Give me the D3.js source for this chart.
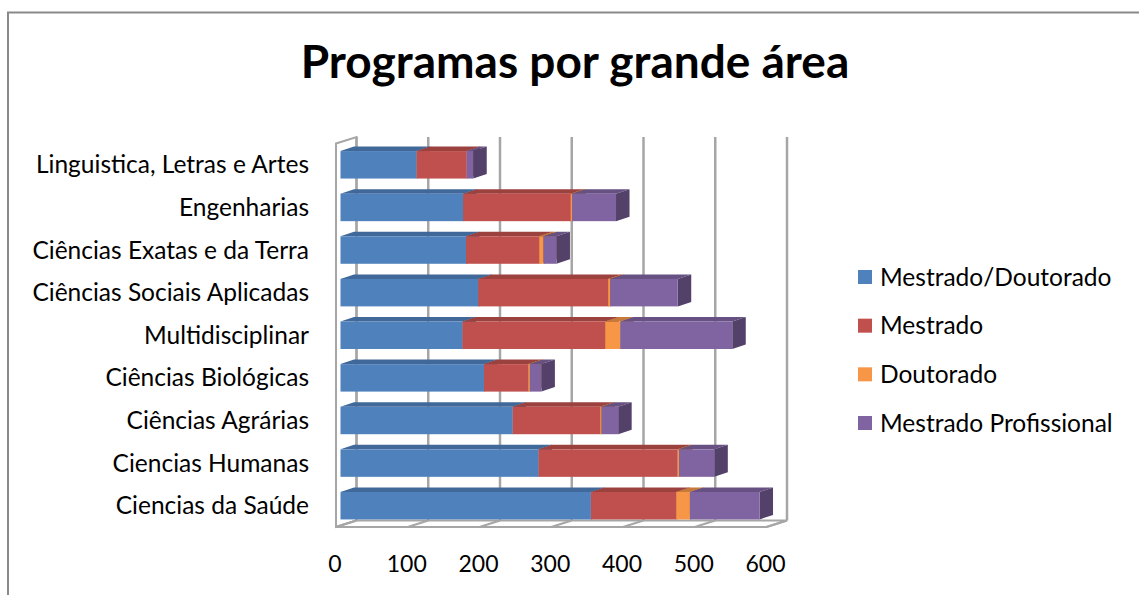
<!DOCTYPE html>
<html>
<head>
<meta charset="utf-8">
<script src="https://cdn.jsdelivr.net/npm/d3@7"></script>
<style>
  body { margin: 0; background: #fff; }
  text { font-family: Lato, "Open Sans", sans-serif; fill: #000; }
</style>
</head>
<body>
<div></div>
<script>
// datos del grafico (de arriba hacia abajo)
var categorias = ['Linguistica, Letras e Artes', 'Engenharias', 'Ciências Exatas e da Terra',
  'Ciências Sociais Aplicadas', 'Multidisciplinar', 'Ciências Biológicas',
  'Ciências Agrárias', 'Ciencias Humanas', 'Ciencias da Saúde'];
var series = ['Mestrado/Doutorado', 'Mestrado', 'Doutorado', 'Mestrado Profissional'];
var mestradoDoutorado = [106, 171, 175, 192, 170, 200, 240, 276, 349];
var mestrado = [70, 150, 102, 181, 199, 62, 122, 194, 119];
var doutorado = [0, 2, 6, 3, 21, 2, 2, 2, 19];
var mestradoProfissional = [9, 61, 18, 94, 156, 16, 23, 49, 97];
var ticks = [0, 100, 200, 300, 400, 500, 600];
var colores = ['#4F81BD', '#C0504D', '#F79646', '#8064A2'];

var w = 1139
var h = 595

// profundidad 3D
var depth = {dx: 20.5, dy: -6.5}
var barDepth = {dx: 13.5, dy: -4.5}
var floorY = 527
var wallTop = 143.5

var svg = d3.select('div')
    .append('svg')
    .attr('width', w)
    .attr('height', h);

// marco del grafico
svg.append('rect')
    .attr('x', 8)
    .attr('y', 12.5)
    .attr('width', 1200)
    .attr('height', 700)
    .attr('fill', '#fff')
    .attr('stroke', '#898989')
    .attr('stroke-width', 2);

svg.append('text')
    .attr('x', 575)
    .attr('y', 78)
    .attr('text-anchor', 'middle')
    .attr('font-size', '46px')
    .attr('font-weight', 'bold')
    .text('Programas por grande área');

// escalas
var scaleX = d3.scaleLinear().domain([0, 600]).range([336, 766.5]);
var scaleY = d3.scaleBand()
    .domain(categorias)
    .range([wallTop, floorY])
    .paddingInner(0.355)
    .paddingOuter(0.1775);

var back = (v) => scaleX(v) + depth.dx

// pared izquierda
svg.append('polygon')
    .attr('points', [[scaleX(0), wallTop], [back(0), wallTop + depth.dy],
      [back(0), floorY + depth.dy], [scaleX(0), floorY]].join(' '))
    .attr('fill', '#fff')
    .attr('stroke', '#a6a6a6')
    .attr('stroke-width', 2);

// suelo
svg.append('polygon')
    .attr('points', [[scaleX(0), floorY], [scaleX(600), floorY],
      [back(600), floorY + depth.dy], [back(0), floorY + depth.dy]].join(' '))
    .attr('fill', '#fff')
    .attr('stroke', '#a6a6a6')
    .attr('stroke-width', 2);

// lineas de cuadricula en la pared del fondo
svg.append('g')
    .selectAll('line')
    .data(ticks)
    .enter()
    .append('line')
    .attr('x1', (d) => back(d))
    .attr('x2', (d) => back(d))
    .attr('y1', wallTop + depth.dy)
    .attr('y2', floorY + depth.dy)
    .attr('stroke', '#a6a6a6')
    .attr('stroke-width', 2.5);

svg.append('g')
    .selectAll('line')
    .data(ticks)
    .enter()
    .append('line')
    .attr('x1', (d) => scaleX(d))
    .attr('x2', (d) => back(d))
    .attr('y1', floorY)
    .attr('y2', floorY + depth.dy)
    .attr('stroke', '#a6a6a6')
    .attr('stroke-width', 2);

// etiquetas del eje x
svg.append('g')
    .selectAll('text')
    .data(ticks)
    .enter()
    .append('text')
    .attr('x', (d) => scaleX(d) - 1)
    .attr('y', 572)
    .attr('text-anchor', 'middle')
    .attr('font-size', '23px')
    .text((d) => d);

// etiquetas de categorias
svg.append('g')
    .selectAll('text')
    .data(categorias)
    .enter()
    .append('text')
    .attr('x', 309)
    .attr('y', (d) => scaleY(d) + scaleY.bandwidth() / 2)
    .attr('dy', '0.35em')
    .attr('text-anchor', 'end')
    .attr('font-size', '24.5px')
    .text((d) => d);

// barras apiladas
var valores = [mestradoDoutorado, mestrado, doutorado, mestradoProfissional];
var tabla = categorias.map((c, i) => {
    var fila = {cat: c};
    series.forEach((s, j) => { fila[s] = valores[j][i]; });
    return fila;
});
var stack = d3.stack().keys(series)(tabla);

var barX = (v) => scaleX(v) + 4.5

stack.forEach((capa, j) => {
    var color = d3.color(colores[j]);
    var g = svg.append('g');
    capa.forEach((d) => {
        if (d[1] - d[0] <= 0) return;
        var x0 = barX(d[0]), x1 = barX(d[1]);
        var y0 = scaleY(d.data.cat), y1 = y0 + scaleY.bandwidth();
        // cara superior
        g.append('polygon')
            .attr('points', [[x0, y0], [x0 + barDepth.dx, y0 + barDepth.dy],
              [x1 + barDepth.dx, y0 + barDepth.dy], [x1, y0]].join(' '))
            .attr('fill', color.darker(0.6));
        // cara lateral
        g.append('polygon')
            .attr('points', [[x1, y0], [x1 + barDepth.dx, y0 + barDepth.dy],
              [x1 + barDepth.dx, y1 + barDepth.dy], [x1, y1]].join(' '))
            .attr('fill', color.darker(1.2));
        // frente
        g.append('rect')
            .attr('x', x0)
            .attr('y', y0)
            .attr('width', x1 - x0)
            .attr('height', y1 - y0)
            .attr('fill', color);
    });
});

// leyenda
var legendY = d3.scalePoint().domain(series).range([277, 423]);
var legend = svg.append('g')
    .selectAll('g')
    .data(series)
    .enter()
    .append('g')
    .attr('transform', (d) => 'translate(858,' + legendY(d) + ')');

legend.append('rect')
    .attr('x', 0)
    .attr('y', -7)
    .attr('width', 14)
    .attr('height', 14)
    .attr('fill', (d, i) => colores[i]);

legend.append('text')
    .attr('x', 22)
    .attr('dy', '0.35em')
    .attr('font-size', '24.5px')
    .text((d) => d);
</script>
</body>
</html>
